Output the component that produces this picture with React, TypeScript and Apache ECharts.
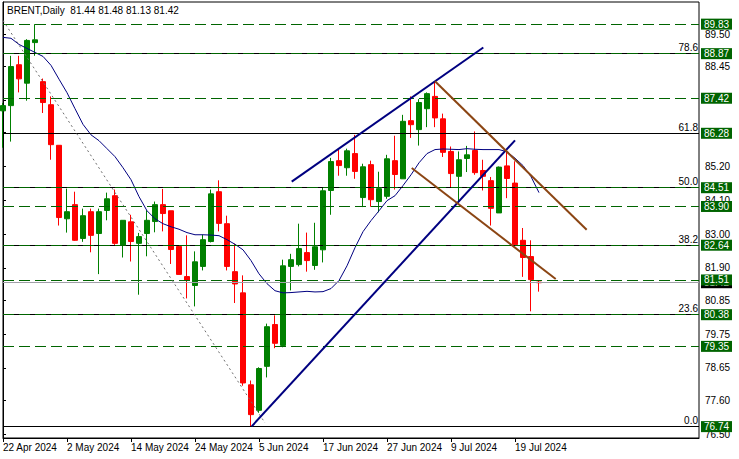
import React, { useEffect, useRef } from "react";
import * as echarts from "echarts";

const dates = [
  "22 Apr 2024", "23 Apr 2024", "24 Apr 2024", "25 Apr 2024", "26 Apr 2024", "29 Apr 2024", "30 Apr 2024",
  "1 May 2024", "2 May 2024", "3 May 2024", "6 May 2024", "7 May 2024", "8 May 2024", "9 May 2024", "10 May 2024",
  "13 May 2024", "14 May 2024", "15 May 2024", "16 May 2024", "17 May 2024", "20 May 2024", "21 May 2024",
  "22 May 2024", "23 May 2024", "24 May 2024", "27 May 2024", "28 May 2024", "29 May 2024", "30 May 2024",
  "31 May 2024", "3 Jun 2024", "4 Jun 2024", "5 Jun 2024", "6 Jun 2024", "7 Jun 2024", "10 Jun 2024",
  "11 Jun 2024", "12 Jun 2024", "13 Jun 2024", "14 Jun 2024", "17 Jun 2024", "18 Jun 2024", "19 Jun 2024",
  "20 Jun 2024", "21 Jun 2024", "24 Jun 2024", "25 Jun 2024", "26 Jun 2024", "27 Jun 2024", "28 Jun 2024",
  "1 Jul 2024", "2 Jul 2024", "3 Jul 2024", "4 Jul 2024", "5 Jul 2024", "8 Jul 2024", "9 Jul 2024",
  "10 Jul 2024", "11 Jul 2024", "12 Jul 2024", "15 Jul 2024", "16 Jul 2024", "17 Jul 2024", "18 Jul 2024",
  "19 Jul 2024", "22 Jul 2024", "23 Jul 2024", "24 Jul 2024",
];

const opens = [
  87.01, 87.18, 88.51, 87.91, 89.23, 87.96, 87.21, 85.89, 83.5, 83.96,
  82.86, 83.73, 83.02, 83.77, 84.25, 82.65, 83.4, 82.7, 83.02, 83.41,
  83.96, 83.76, 82.6, 81.62, 81.33, 81.95, 82.76, 84.38, 83.34, 81.78,
  81.09, 78.1, 77.27, 78.7, 80.06, 79.38, 81.95, 82.01, 82.4, 81.98,
  82.49, 84.42, 85.39, 85.16, 85.62, 84.19, 85.26, 84.06, 84.23, 85.39,
  84.8, 86.69, 86.4, 87.08, 87.48, 86.75, 85.69, 84.88, 85.46, 85.72,
  85.07, 84.74, 83.69, 85.22, 84.66, 82.8, 82.27, 81.44,
];
const closes = [
  87.18, 88.45, 88.05, 89.3, 89.32, 87.28, 85.91, 83.54, 83.73, 82.8,
  83.6, 82.96, 83.73, 84.15, 82.7, 83.45, 82.76, 82.92, 83.45, 83.96,
  83.67, 82.5, 81.69, 81.51, 82.1, 82.82, 84.31, 83.35, 81.95, 81.38,
  78.16, 77.13, 78.63, 79.99, 79.45, 81.97, 82.17, 82.53, 82.14, 82.59,
  84.41, 85.36, 85.23, 85.71, 85.04, 85.19, 84.12, 84.48, 85.45, 84.94,
  86.67, 86.56, 87.28, 87.57, 86.78, 85.66, 84.97, 85.42, 85.58, 85.0,
  84.88, 83.84, 85.18, 84.81, 82.66, 82.24, 81.52, 81.42,
];
const lows = [
  85.81, 86.01, 87.61, 87.34, 88.8, 86.94, 85.42, 83.28, 83.05, 82.78,
  82.75, 82.41, 81.7, 83.45, 82.65, 82.24, 82.11, 81.03, 82.28, 83.06,
  83.09, 82.03, 81.69, 80.91, 80.65, 81.82, 82.73, 83.09, 81.82, 80.76,
  78.07, 76.74, 77.19, 78.34, 79.29, 79.32, 81.17, 81.95, 81.78, 81.84,
  82.08, 83.63, 84.9, 84.9, 84.8, 83.88, 83.89, 83.71, 84.15, 84.45,
  84.8, 86.13, 85.88, 86.48, 86.48, 85.51, 84.5, 84.03, 85.02, 84.93,
  84.42, 83.28, 83.69, 84.17, 82.66, 81.61, 80.49, 81.13,
];
const highs = [
  87.27, 88.8, 88.8, 89.34, 89.83, 88.06, 87.48, 85.89, 84.48, 84.38,
  83.83, 83.83, 83.83, 84.35, 84.45, 83.45, 83.63, 83.04, 83.78, 84.06,
  84.47, 83.76, 82.6, 82.96, 82.44, 82.98, 84.45, 84.75, 83.6, 82.69,
  81.66, 78.24, 78.67, 80.09, 80.36, 82.17, 82.36, 83.34, 83.05, 83.37,
  84.53, 85.48, 85.75, 85.78, 86.23, 85.29, 85.39, 85.03, 85.58, 86.2,
  86.88, 87.48, 87.39, 87.61, 87.97, 86.92, 85.85, 85.69, 85.87, 86.34,
  85.42, 84.86, 85.2, 85.69, 85.37, 83.2, 82.8, 81.48,
];
const maValues = [
  89.4, 89.37, 89.17, 89.04, 88.91, 88.78, 88.49, 88.04, 87.6, 87.08,
  86.57, 86.23, 86.04, 85.78, 85.52, 85.16, 84.77, 84.22, 83.76, 83.5,
  83.34, 83.24, 83.16, 83.05, 82.98, 82.98, 82.97, 82.95, 82.82, 82.67,
  82.49, 82.14, 81.71, 81.39, 81.16, 81.09, 81.1, 81.12, 81.14, 81.12,
  81.13, 81.23, 81.49, 81.97, 82.56, 83.08, 83.44, 83.76, 84.09, 84.25,
  84.58, 84.93, 85.32, 85.62, 85.75, 85.77, 85.76, 85.75, 85.78, 85.76,
  85.75, 85.75, 85.75, 85.68, 85.47, 85.23, 84.87, 84.35,
];

const yTickValues = [76.5, 77.6, 78.65, 79.75, 80.85, 81.9, 83.0, 84.1, 85.2, 86.3, 87.35, 88.45, 89.5];
const yLabelValues = [76.5, 77.6, 78.65, 79.75, 80.85, 81.9, 83.0, 84.1, 85.2, 88.45, 89.5];
const fibPrices = [88.87, 86.28, 84.51, 82.64, 80.38, 76.74];
const fibLabels = ["78.6", "61.8", "50.0", "38.2", "23.6", "0.0"];
const fibOnlyTagPrices = [86.28, 76.74];
const levelPrices = [89.83, 88.87, 87.42, 84.51, 83.9, 82.64, 81.51, 80.38, 79.35];
const currentPrice = 81.42;
const headerText = "BRENT,Daily  81.44 81.48 81.13 81.42";

const blueUpper = [[36.09, 84.71], [60.04, 89.07]];
const blueLower = [[31.09, 76.75], [64.0, 86.05]];
const brownUpper = [[54.0, 87.97], [72.96, 83.14]];
const brownLower = [[51.09, 85.15], [69.09, 81.54]];
const fibDiagonal = [[0, 89.95], [32.75, 76.86]];

const TOTAL_SLOTS = 88;
const FONT = "Liberation Sans";

export default function App() {
  const ref = useRef<HTMLDivElement>(null);
  useEffect(() => {
    const chart = echarts.init(ref.current!, undefined, { renderer: "svg" });
    const categories = dates.slice();
    for (let i = dates.length; i < TOTAL_SLOTS; i++) categories.push("_" + i);
    const candleData = opens.map((o, i) => [o, closes[i], lows[i], highs[i]]);
    const showTick = (idx: number) => idx % 8 === 0 && idx < dates.length;

    const tagLabel = (bg: string) => ({
      show: true,
      position: "end",
      distance: 2,
      formatter: (p: any) => Number(p.value).toFixed(2),
      color: "#fff",
      backgroundColor: bg,
      padding: [1, 3, 0, 3],
      fontSize: 10,
      lineHeight: 10,
      fontFamily: FONT,
    });

    const markData: any[] = [];
    fibPrices.forEach((p, i) => {
      markData.push({
        yAxis: p,
        lineStyle: { color: "#000", width: 1, type: "solid" },
        label: {
          show: true,
          position: "insideEndTop",
          distance: 1,
          formatter: fibLabels[i],
          color: "#000",
          fontSize: 10,
          fontFamily: FONT,
        },
      });
    });
    fibOnlyTagPrices.forEach((p) => {
      markData.push({
        yAxis: p,
        lineStyle: { color: "#000", width: 1, type: "solid" },
        label: tagLabel("#006400"),
      });
    });
    markData.push({
      yAxis: currentPrice,
      lineStyle: { color: "#a0a0a8", width: 1, type: "solid" },
      label: tagLabel("#000"),
    });
    levelPrices.forEach((p) => {
      markData.push({
        yAxis: p,
        lineStyle: { color: "#006400", width: 1, type: [11, 5] },
        label: tagLabel("#006400"),
      });
    });

    const trend = (data: number[][], color: string, width: number, type: any = "solid") => ({
      type: "line",
      xAxisIndex: 1,
      yAxisIndex: 0,
      data,
      symbol: "none",
      silent: true,
      z: 6,
      lineStyle: { color, width, type },
    });

    chart.setOption({
      animation: false,
      backgroundColor: "#fff",
      textStyle: { fontFamily: FONT },
      grid: {
        left: 3,
        right: 40,
        top: 2,
        bottom: 21,
        show: true,
        borderColor: "#000",
        borderWidth: 1,
        backgroundColor: "#fff",
      },
      xAxis: [
        {
          type: "category",
          data: categories,
          boundaryGap: false,
          axisLine: { show: true, lineStyle: { color: "#000", width: 1 } },
          axisTick: { show: true, interval: (i: number) => showTick(i), length: 4, lineStyle: { color: "#000" } },
          axisLabel: {
            show: true,
            interval: (i: number) => showTick(i),
            align: "left",
            margin: 4,
            color: "#000",
            fontSize: 10,
            fontFamily: FONT,
          },
          splitLine: { show: false },
        },
        {
          type: "value",
          min: 0,
          max: TOTAL_SLOTS - 1,
          show: false,
          splitLine: { show: false },
        },
      ],
      yAxis: {
        type: "value",
        position: "right",
        min: 76.37,
        max: 90.55,
        scale: true,
        axisLine: { show: true, lineStyle: { color: "#000", width: 1 } },
        axisTick: { show: true, length: 3, customValues: yTickValues, lineStyle: { color: "#000" } },
        axisLabel: {
          show: true,
          customValues: yLabelValues,
          formatter: (v: number) => v.toFixed(2),
          color: "#000",
          fontSize: 10,
          margin: 6,
          fontFamily: FONT,
        },
        splitLine: { show: false },
      },
      graphic: [
        {
          type: "text",
          left: 7,
          top: 5,
          z: 100,
          style: { text: headerText, fill: "#000", font: `10px "${FONT}"` },
        },
      ],
      series: [
        {
          type: "line",
          data: [],
          silent: true,
          z: 1,
          markLine: {
            silent: true,
            symbol: ["none", "none"],
            animation: false,
            data: markData,
          },
        },
        {
          type: "candlestick",
          data: candleData,
          barWidth: 5,
          z: 3,
          silent: true,
          itemStyle: {
            color: "#008000",
            color0: "#ff0000",
            borderColor: "#008000",
            borderColor0: "#ff0000",
            borderWidth: 1,
          },
        },
        {
          type: "line",
          data: maValues,
          symbol: "none",
          silent: true,
          z: 4,
          lineStyle: { color: "#000080", width: 1 },
        },
        trend(fibDiagonal, "#6e6e6e", 1, [2, 3]),
        trend(blueUpper, "#000080", 2),
        trend(blueLower, "#000080", 2),
        trend(brownUpper, "#8b4513", 2),
        trend(brownLower, "#8b4513", 2),
      ],
    });
    return () => chart.dispose();
  }, []);
  return (
    <div
      ref={ref}
      style={{ position: "fixed", left: 0, top: 0, width: 739, height: 459, background: "#fff" }}
    />
  );
}
